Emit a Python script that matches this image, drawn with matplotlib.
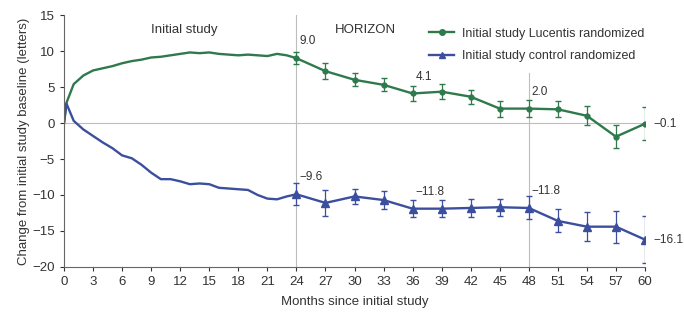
import matplotlib.pyplot as plt

plt.rcParams['font.family'] = ['Liberation Sans', 'DejaVu Sans']

# initial study, monthly (plus week 1)
init_months = [0, 0.25, 1, 2, 3, 4, 5, 6, 7, 8, 9, 10, 11, 12, 13, 14, 15, 16,
               17, 18, 19, 20, 21, 22, 23, 24]
lucentis_init = [0, 2.8, 5.4, 6.6, 7.3, 7.6, 7.9, 8.3, 8.6, 8.8, 9.1, 9.2, 9.4,
                 9.6, 9.8, 9.7, 9.8, 9.6, 9.5, 9.4, 9.5, 9.4, 9.3, 9.6, 9.4, 9.0]
control_init = [0, 2.7, 0.3, -0.9, -1.8, -2.7, -3.5, -4.5, -4.9, -5.8, -6.9,
                -7.8, -7.8, -8.1, -8.5, -8.4, -8.5, -9.0, -9.1, -9.2, -9.3,
                -10.0, -10.5, -10.6, -10.2, -9.9]

# HORIZON extension, quarterly
hz_months = [24, 27, 30, 33, 36, 39, 42, 45, 48, 51, 54, 57, 60]
lucentis_hz = [9.0, 7.2, 6.0, 5.3, 4.1, 4.35, 3.65, 2.0, 2.0, 1.9, 1.0, -1.9, -0.1]
lucentis_err = [0.8, 1.1, 0.9, 0.9, 1.0, 1.0, 1.0, 1.1, 1.2, 1.1, 1.3, 1.6, 2.3]
control_hz = [-9.9, -11.1, -10.2, -10.7, -11.9, -11.9, -11.8, -11.7, -11.8,
              -13.6, -14.4, -14.4, -16.2]
control_err = [1.5, 1.8, 1.0, 1.2, 1.2, 1.2, 1.2, 1.2, 1.6, 1.6, 2.0, 2.2, 3.3]

# labelled values
lucentis_labels = {24: '9.0', 36: '4.1', 48: '2.0', 60: '\u22120.1'}
control_labels = {24: '\u22129.6', 36: '\u221211.8', 48: '\u221211.8', 60: '\u221216.1'}

green = '#2f7a4c'
blue = '#3b4f9e'
grey = '#bdbdbd'
txt_col = '#333333'

fig = plt.figure(figsize=(6.84, 3.14), dpi=100)
ax = fig.add_axes([0.0936, 0.1497, 0.8494, 0.8025])

ax.axhline(0, color=grey, lw=0.8, zorder=0)
ax.axvline(24, color=grey, lw=0.8, zorder=0)
ax.plot([48, 48], [7, -20], color=grey, lw=0.8, zorder=0)

ax.plot(init_months, lucentis_init, color=green, lw=1.7)
ax.plot(init_months, control_init, color=blue, lw=1.7)

ax.errorbar(hz_months, lucentis_hz, yerr=lucentis_err, fmt='none', ecolor=green,
            elinewidth=0.9, capsize=2)
ax.errorbar(hz_months, control_hz, yerr=control_err, fmt='none', ecolor=blue,
            elinewidth=0.9, capsize=2)
ax.plot(hz_months, lucentis_hz, color=green, lw=1.7, marker='o', ms=3.5,
        label='Initial study Lucentis randomized')
ax.plot(hz_months, control_hz, color=blue, lw=1.7, marker='^', ms=6,
        label='Initial study control randomized')

for labels, values in [(lucentis_labels, lucentis_hz), (control_labels, control_hz)]:
    for m, txt in labels.items():
        v = values[hz_months.index(m)]
        if m == 60:
            ax.text(m + 0.9, v, txt, fontsize=8.5, color=txt_col, va='center', clip_on=False)
        else:
            ax.text(m + 0.3, v + 1.5, txt, fontsize=8.5, color=txt_col, va='bottom')

ax.text(12.4, 12.9, 'Initial study', fontsize=9.5, color=txt_col, ha='center', va='center')
ax.text(31.1, 12.9, 'HORIZON', fontsize=9.5, color=txt_col, ha='center', va='center')

leg = ax.legend(loc='upper left', bbox_to_anchor=(0.62, 0.97), frameon=False, fontsize=9,
                handlelength=2.0, handletextpad=0.6, labelspacing=0.85,
                labelcolor=txt_col, borderaxespad=0)
for h in leg.legend_handles:
    h.set_markersize(4)

ax.set_xlim(0, 60)
ax.set_ylim(-20, 15)
ax.set_xticks(range(0, 61, 3))
ax.set_yticks(range(-20, 16, 5))
ax.set_yticklabels([str(t).replace('-', '\u2212') for t in range(-20, 16, 5)])
ax.tick_params(labelsize=9.5, colors=txt_col, length=3, width=0.8)
for s in ['top', 'right']:
    ax.spines[s].set_visible(False)
for s in ['left', 'bottom']:
    ax.spines[s].set_color('#666666')
    ax.spines[s].set_linewidth(0.8)

ax.set_xlabel('Months since initial study', fontsize=9.5, color=txt_col, labelpad=6)
ax.set_ylabel('Change from initial study baseline (letters)', fontsize=9.5, color=txt_col,
              labelpad=2)

fig.savefig('out.png', dpi=100)
